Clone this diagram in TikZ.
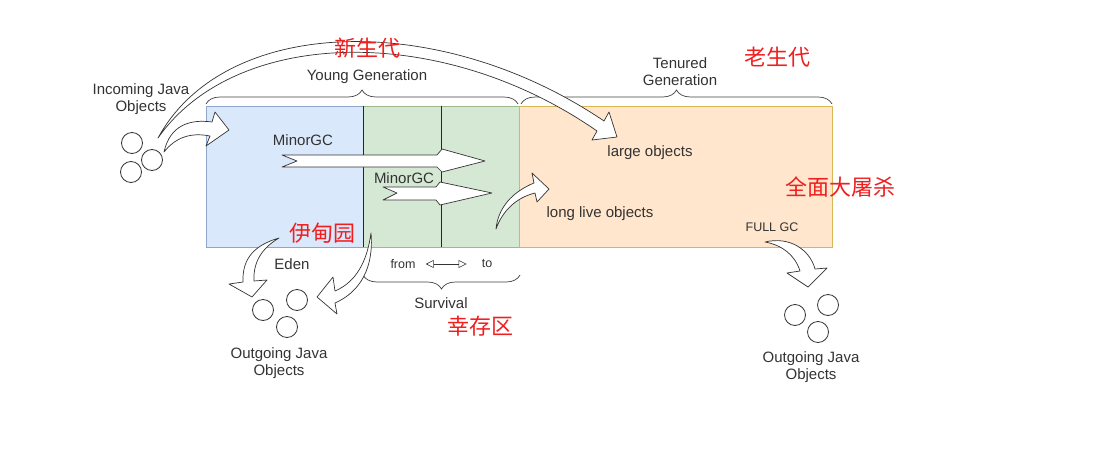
\documentclass[tikz,border=0pt]{standalone}
\usepackage{fontspec}
\setmainfont{Liberation Sans}
\newfontfamily\cjk{Noto Sans CJK SC}
\usetikzlibrary{arrows.meta,decorations.pathreplacing}
\definecolor{edenfill}{HTML}{DAE8FC}
\definecolor{edenline}{HTML}{8FA6C8}
\definecolor{survfill}{HTML}{D5E8D4}
\definecolor{survline}{HTML}{9DB88A}
\definecolor{tenfill}{HTML}{FFE6CC}
\definecolor{tenline}{HTML}{D6B656}
\definecolor{note}{RGB}{240,30,30}
\tikzset{
  lbl/.style={font=\fontsize{15}{17}\selectfont, text=black!80, align=center, inner sep=0pt},
  smalllbl/.style={font=\fontsize{12.5}{14}\selectfont, text=black!80, inner sep=0pt},
  cnlbl/.style={font=\cjk\fontsize{22}{24}\selectfont, text=note, inner sep=0pt},
  obj/.style={circle, draw=black!80, line width=0.8pt, minimum size=21pt, inner sep=0pt},
  blockarrow/.style={draw=black!80, fill=white, line width=0.7pt, line join=round},
  gen/.style={draw=black!75, line width=0.7pt, decorate, decoration={brace, amplitude=14pt}}
}
\begin{document}
\begin{tikzpicture}[x=1pt, y=-1pt]
      \useasboundingbox (0,0) rectangle (1117,450);
      % heap areas
      \draw[edenline, fill=edenfill, line width=0.6pt] (206,106) rectangle (363,247);
      \draw[survline, fill=survfill, line width=0.6pt] (363,106) rectangle (519,247);
      \draw[tenline, fill=tenfill, line width=0.6pt] (519,106) rectangle (832,247);
      \draw[black!85, line width=0.7pt] (363,106) -- (363,247);
      \draw[black!85, line width=0.7pt] (441,106) -- (441,247);
      % braces
      \draw[gen] (206,104) -- (518,104);
      \draw[gen] (521,104) -- (832,104);
      \draw[gen] (520,275) -- (363,275);
      % labels
      \node[lbl] (young) at (367,77) {Young Generation};
      \node[lbl] (tenured) at (680,72) {Tenured\\Generation};
      \node[lbl] (incoming) at (141,99) {Incoming Java\\Objects};
      \node[lbl] (minor1) at (303,140) {MinorGC};
      \node[lbl] (minor2) at (404,178) {MinorGC};
      \node[lbl] (large) at (650,153) {large objects};
      \node[lbl] (longlive) at (600,214) {long live objects};
      \node[smalllbl] (fullgc) at (772,227) {FULL GC};
      \node[lbl] (eden) at (292,264) {Eden};
      \node[smalllbl] (from) at (403,264) {from};
      \node[smalllbl] (to) at (487,264) {to};
      \node[lbl] (survival) at (441,303) {Survival};
      \node[lbl] (outleft) at (279,363) {Outgoing Java\\Objects};
      \node[lbl] (outright) at (811,367) {Outgoing Java\\Objects};
      \draw[black!80, line width=0.6pt, {Triangle[open, length=8pt, width=8pt]}-{Triangle[open, length=8pt, width=8pt]}, shorten <=10pt, shorten >=15pt] (from) -- (to);
      % objects
      \node[obj] (in1) at (132,143) {};
      \node[obj] (in2) at (152,160) {};
      \node[obj] (in3) at (131,172) {};
      \node[obj] (ol1) at (263,310) {};
      \node[obj] (ol2) at (297,300) {};
      \node[obj] (ol3) at (287,327) {};
      \node[obj] (or1) at (795,315) {};
      \node[obj] (or2) at (828,305) {};
      \node[obj] (or3) at (818,332) {};
      % block arrows
      \draw[blockarrow] (158,138) .. controls (225,15) and (440,10) .. (604,121) -- (609,112) -- (617,137) -- (592,140) -- (597,131) .. controls (440,22) and (235,28) .. (158,138) -- cycle;
      \draw[blockarrow] (164,152) .. controls (170,125) and (190,119) .. (212,122) -- (215,112) -- (229,130) -- (206,146) -- (210,136) .. controls (190,132) and (175,138) .. (164,152) -- cycle;
      \draw[blockarrow] (282,155) -- (437,155) -- (442,149) -- (485,161) -- (442,172) -- (437,167) -- (282,167) -- (297,161) -- cycle;
      \draw[blockarrow] (383,187) -- (436,187) -- (440,182) -- (492,193) -- (440,205) -- (436,200) -- (383,200) -- (397,193) -- cycle;
      \draw[blockarrow] (496,229) .. controls (498,208) and (512,192) .. (534,183) -- (532,173) -- (549,189) -- (537,202) -- (535,193) .. controls (515,198) and (502,212) .. (496,229) -- cycle;
      \draw[blockarrow] (279,238) .. controls (255,245) and (242,258) .. (243,282) -- (229,284) -- (252,297) -- (267,280) -- (254,281) .. controls (253,262) and (262,248) .. (279,238) -- cycle;
      \draw[blockarrow] (371,233) .. controls (374,268) and (360,292) .. (335,303) -- (337,314) -- (317,297) -- (333,277) -- (335,291) .. controls (356,282) and (367,262) .. (371,233) -- cycle;
      \draw[blockarrow] (765,242) .. controls (790,236) and (810,250) .. (815,269) -- (827,268) -- (808,287) -- (787,273) -- (800,271) .. controls (795,255) and (782,245) .. (765,242) -- cycle;
      % notes
      \node[cnlbl] (cnyoung) at (367,48) {新生代};
      \node[cnlbl] (cnold) at (777,57) {老生代};
      \node[cnlbl] (cnfull) at (840,187) {全面大屠杀};
      \node[cnlbl] (cneden) at (322,233) {伊甸园};
      \node[cnlbl] (cnsurv) at (480,326) {幸存区};
    \end{tikzpicture}
\end{document}
